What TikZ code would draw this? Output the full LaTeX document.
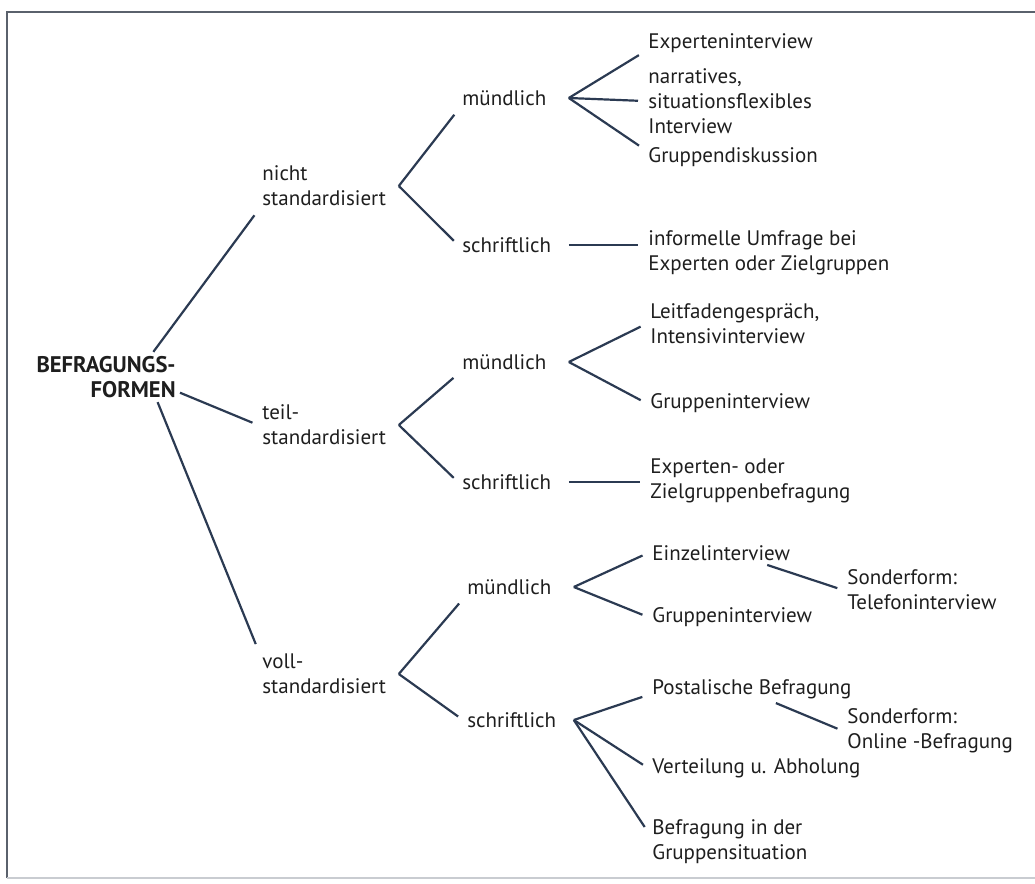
\documentclass[tikz,border=0pt]{standalone}
\usepackage{fontspec}
\setmainfont{PT Sans}
\definecolor{branchBlue}{HTML}{2B3A52}
\definecolor{labelGray}{HTML}{1E1E1E}
\definecolor{frameGray}{HTML}{5A616C}
\definecolor{frameLight}{HTML}{C9CCD1}
\tikzset{
labelstyle/.style={anchor=west, inner sep=2pt, align=left, text=labelGray, font=\fontsize{10.5}{12.5}\selectfont},
levelone/.style={labelstyle, text width=66pt},
leveltwo/.style={labelstyle, text width=51pt},
rootstyle/.style={labelstyle, anchor=east, align=right, font=\fontsize{11.3}{12.5}\selectfont\bfseries},
branchstyle/.style={draw=branchBlue, line width=1.1pt, shorten >=3pt}
}
\begin{document}
\begin{tikzpicture}[x=0.5pt,y=-0.5pt]
\useasboundingbox (0,0) rectangle (1035,884);

% frame
\draw[frameGray, line width=1pt] (7,878) -- (7,12) -- (1035,12);
\draw[frameLight, line width=1pt] (7,878) -- (1035,878);

\node[rootstyle] (root) at (180,377) {BEFRAGUNGS-\\FORMEN};

\node[levelone] (ns) at (258,186) {nicht\\standardisiert};
\node[levelone] (ts) at (258,425) {teil-\\standardisiert};
\node[levelone] (vs) at (258,674) {voll-\\standardisiert};

\node[leveltwo] (nsm) at (458,98) {mündlich};
\node[leveltwo] (nss) at (458,245) {schriftlich};
\node[leveltwo] (tsm) at (458,362) {mündlich};
\node[leveltwo] (tss) at (458,482) {schriftlich};
\node[leveltwo] (vsm) at (463,587) {mündlich};
\node[leveltwo] (vss) at (463,720) {schriftlich};

\node[labelstyle] (expint) at (644,43) {Experteninterview};
\node[labelstyle] (narr) at (644,101) {narratives,\\situationsflexibles\\Interview};
\node[labelstyle] (gdisk) at (644,157) {Gruppendiskussion};
\node[labelstyle] (inform) at (644,253) {informelle Umfrage bei\\Experten oder Zielgruppen};
\node[labelstyle] (leitf) at (646,324) {Leitfadengespräch,\\Intensivinterview};
\node[labelstyle] (gint) at (646,403) {Gruppeninterview};
\node[labelstyle] (zielbef) at (646,481) {Experten- oder\\Zielgruppenbefragung};
\node[labelstyle] (einzel) at (648,553) {Einzelinterview};
\node[labelstyle] (gintv) at (648,617) {Gruppeninterview};
\node[labelstyle] (postal) at (648,689) {Postalische Befragung};
\node[labelstyle] (verteil) at (648,768) {Verteilung u. Abholung};
\node[labelstyle] (gruppsit) at (648,842) {Befragung in der\\Gruppensituation};
\node[labelstyle] (telef) at (843,590) {Sonderform:\\Telefoninterview};
\node[labelstyle] (online) at (843,731) {Sonderform:\\Online -Befragung};

\draw[branchstyle] (root.28) -- (ns.south west);
\draw[branchstyle] (root.-12) -- (ts.west);
\draw[branchstyle] (root.-26) -- (vs.north west);

\draw[branchstyle] (ns.east) -- (nsm.south west);
\draw[branchstyle] (ns.east) -- (nss.west);
\draw[branchstyle] (ts.east) -- (tsm.south west);
\draw[branchstyle] (ts.east) -- (tss.west);
\draw[branchstyle] (vs.east) -- (vsm.south west);
\draw[branchstyle] (vs.east) -- (vss.west);

\draw[branchstyle] (nsm.east) -- ([yshift=-4.5pt]expint.west);
\draw[branchstyle] (nsm.east) -- (narr.west);
\draw[branchstyle] (nsm.east) -- ([yshift=4pt]gdisk.west);
\draw[branchstyle] (nss.east) -- (nss.east -| inform.west);

\draw[branchstyle] (tsm.east) -- (leitf.west);
\draw[branchstyle] (tsm.east) -- (gint.west);
\draw[branchstyle] (tss.east) -- (tss.east -| zielbef.west);

\draw[branchstyle] (vsm.east) -- (einzel.west);
\draw[branchstyle] (vsm.east) -- (gintv.west);
\draw[branchstyle] (vss.east) -- ([yshift=-3pt]postal.west);
\draw[branchstyle] (vss.east) -- (verteil.west);
\draw[branchstyle] (vss.east) -- ([yshift=5pt]gruppsit.west);

\draw[branchstyle] ([xshift=23pt]einzel.south) -- (telef.west);
\draw[branchstyle] ([xshift=12pt]postal.south) -- (online.west);

\end{tikzpicture}
\end{document}
